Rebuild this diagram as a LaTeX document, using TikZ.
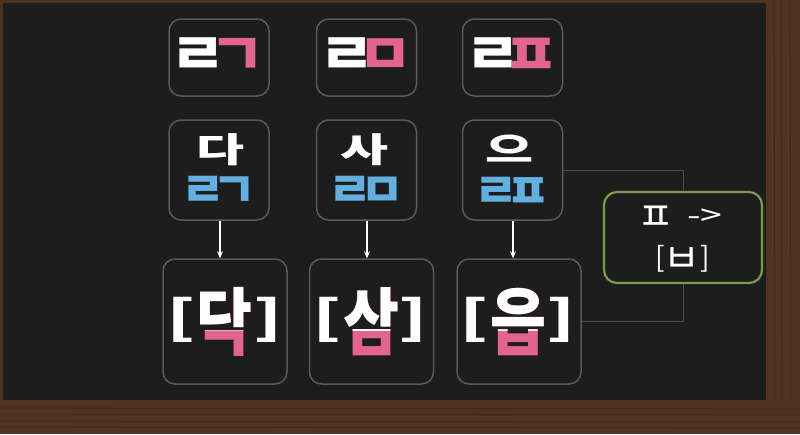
\documentclass[tikz,border=0pt]{standalone}
\usepackage{fontspec}
\usepackage{graphicx}
\newfontfamily\kr{Noto Sans CJK KR}
\usetikzlibrary{arrows.meta}
\definecolor{wood}{HTML}{4E3322}
\definecolor{wooddark}{HTML}{3E281A}
\definecolor{board}{HTML}{1D1D1D}
\definecolor{boxgray}{HTML}{5A5A5A}
\definecolor{chalkpink}{HTML}{E2648F}
\definecolor{chalkblue}{HTML}{62B0E0}
\definecolor{ruleg}{HTML}{7B9A4D}
\definecolor{conn}{HTML}{4B4E45}
\newcommand{\tj}[1]{\scalebox{1.05}[1]{#1}}
\newcommand{\jk}{\kern-18pt}
\newcommand{\sk}{\kern-13pt}
\newcommand{\wide}[1]{\scalebox{1.45}[0.95]{#1}}
\newcommand{\tall}[1]{\scalebox{0.95}[1.15]{#1}}
\newcommand{\fatbr}[1]{\scalebox{1.6}[1]{#1}}
\newcommand{\wsym}[1]{\scalebox{1.4}[1]{#1}}
\tikzset{
  box/.style={draw=boxgray, line width=1.5pt, rounded corners=12pt, fill=board, inner sep=0pt},
  topbox/.style={box, minimum width=100pt, minimum height=77pt},
  midbox/.style={box, minimum width=100pt, minimum height=100pt},
  botbox/.style={box, minimum width=124pt, minimum height=125pt},
  rulebox/.style={draw=ruleg, line width=2.2pt, rounded corners=13pt, fill=board, minimum width=158pt, minimum height=91pt},
  jamo/.style={text=white, font=\kr\bfseries\fontsize{58}{60}\selectfont, inner sep=0pt},
  bigsyl/.style={text=white, font=\kr\bfseries\fontsize{36}{40}\selectfont, inner sep=0pt},
  subjamo/.style={text=chalkblue, font=\kr\bfseries\fontsize{48}{50}\selectfont, inner sep=0pt},
  syl/.style={font=\kr\bfseries\fontsize{64}{66}\selectfont, inner sep=0pt},
  brk/.style={text=white, font=\kr\bfseries\fontsize{46}{48}\selectfont, inner sep=0pt},
  rulejamo/.style={text=white, font=\kr\fontsize{40}{42}\selectfont, inner sep=0pt},
  rulesym/.style={text=white, font=\kr\fontsize{28}{30}\selectfont, inner sep=0pt},
  arr/.style={draw=white, line width=1.2pt, -{Stealth[length=7pt,width=6pt]}},
  link/.style={draw=conn, line width=1pt}
}
\begin{document}
\begin{tikzpicture}[x=1pt,y=-1pt]
\useasboundingbox (0,0) rectangle (800,434);
\fill[wood] (0,0) rectangle (800,434);
\foreach \yy in {408,414,421,427}{\draw[wooddark, line width=0.8pt] (0,\yy) -- (800,\yy+1);}
\foreach \xx in {774,781,790}{\draw[wooddark, line width=0.8pt] (\xx,0) -- (\xx+1,400);}
\fill[board] (3,3) rectangle (766,400);

% top row
\node[topbox] (t1) at (219,57.5) {};
\node[topbox] (t2) at (366.5,57.5) {};
\node[topbox] (t3) at (512.5,57.5) {};
\node[jamo] (t1t) at (218,57) {\tj{ㄹ}\jk\textcolor{chalkpink}{\tj{ㄱ}}};
\node[jamo] (t2t) at (366.5,57) {\tj{ㄹ}\jk\textcolor{chalkpink}{\tj{ㅁ}}};
\node[jamo] (t3t) at (512.5,57) {\tj{ㄹ}\jk\textcolor{chalkpink}{\tj{ㅍ}}};

% middle row
\node[midbox] (m1) at (219,170) {};
\node[midbox] (m2) at (366.5,170) {};
\node[midbox] (m3) at (512.5,170) {};
\node[bigsyl] (m1a) at (221,150) {\wide{다}};
\node[bigsyl] (m2a) at (365,150) {\wide{사}};
\node[bigsyl] (m3a) at (510,149) {\wide{으}};
\node[subjamo] (m1b) at (219,192) {ㄹ\sk ㄱ};
\node[subjamo] (m2b) at (366.5,192) {ㄹ\sk ㅁ};
\node[subjamo] (m3b) at (512.5,193) {ㄹ\sk ㅍ};

% bottom row
\node[botbox] (b1) at (225,321.5) {};
\node[botbox] (b2) at (371.5,321.5) {};
\node[botbox] (b3) at (519,321.5) {};

\node[syl, text=chalkpink] (s1) at (224,322) {\tall{닥}};
\node[syl, text=chalkpink] (s2) at (371,322) {\tall{삼}};
\node[syl, text=chalkpink] (s3) at (518,322) {\tall{읍}};
\begin{scope}
\clip (160,250) rectangle (590,330);
\node[syl, text=white] (s1w) at (224,322) {\tall{닥}};
\node[syl, text=white] (s2w) at (371,322) {\tall{삼}};
\node[syl, text=white] (s3w) at (518,322) {\tall{읍}};
\end{scope}
\node[brk] (l1) at (181,320) {\fatbr{[}};
\node[brk] (r1) at (268,320) {\fatbr{]}};
\node[brk] (l2) at (327,320) {\fatbr{[}};
\node[brk] (r2) at (413,320) {\fatbr{]}};
\node[brk] (l3) at (474,320) {\fatbr{[}};
\node[brk] (r3) at (561,320) {\fatbr{]}};

% arrows
\draw[arr] (m1.south -| 220,0) -- (b1.north -| 220,0);
\draw[arr] (m2.south -| 367,0) -- (b2.north -| 367,0);
\draw[arr] (m3.south -| 513,0) -- (b3.north -| 513,0);

% rule box
\node[rulebox] (g) at (683,237.5) {};
\node[rulejamo] (g1) at (656,218) {ㅍ};
\node[rulesym] (g2) at (705,217) {\wsym{->}};
\node[rulesym] (g3) at (660,259) {[};
\node[rulejamo] (g4) at (682,260) {ㅂ};
\node[rulesym] (g5) at (705,259) {]};
\draw[link] (m3.east) -| (g.north);
\draw[link] (g.south) |- (b3.east);
\end{tikzpicture}
\end{document}
